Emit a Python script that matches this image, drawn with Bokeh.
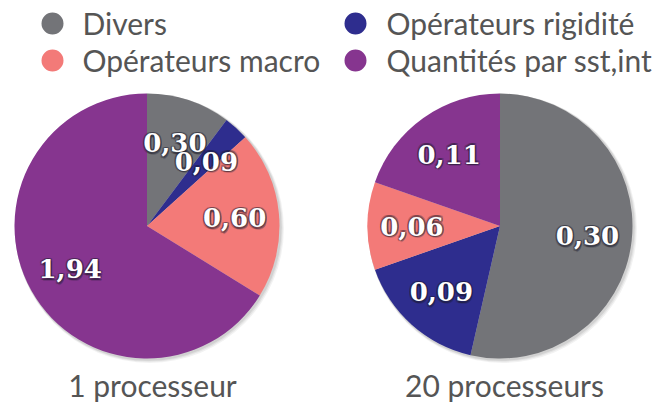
import numpy as np
from bokeh.plotting import figure
from bokeh.models import Range1d, ColumnDataSource
from bokeh.core.properties import value
from bokeh.embed import file_html
from bokeh.resources import INLINE

categories = ["Divers", "Opérateurs rigidité", "Opérateurs macro", "Quantités par sst,int"]
colors = ["#737478", "#2e2d8e", "#f37a78", "#86358f"]
vals_1proc = [0.30, 0.09, 0.60, 1.94]
vals_20proc = [0.30, 0.09, 0.06, 0.11]
captions = ["1 processeur", "20 processeurs"]

W, H = 653, 406
p = figure(width=W, height=H, output_backend="svg", toolbar_location=None,
           x_range=Range1d(0, W), y_range=Range1d(0, H), min_border=0)
p.axis.visible = False
p.grid.visible = False
p.outline_line_color = None
p.background_fill_color = "white"
p.border_fill_color = "white"

def Y(y_img):
    return H - y_img

R = 132.5
centers = [(146.5, Y(225.5)), (499.5, Y(225.5))]
caption_x = [152, 504]
label_r = 88

sans = "Lato"
serif = "DejaVu Serif"

for (cx, cy), vals, cap, capx in zip(centers, [vals_1proc, vals_20proc], captions, caption_x):
    v = np.array(vals, dtype=float)
    frac = v / v.sum()
    ang = 2 * np.pi * frac
    cum = np.concatenate([[0], np.cumsum(ang)])
    # clockwise from 12 o'clock
    start = np.pi / 2 - cum[1:]
    end = np.pi / 2 - cum[:-1]
    mid = (start + end) / 2

    # soft shadow
    for k, a in [(4, 0.05), (3, 0.06), (2, 0.08)]:
        p.scatter(x=[cx + k * 0.6], y=[cy - k * 0.6], size=2 * (R + k * 0.5), marker="circle",
                  fill_color="#000000", fill_alpha=a, line_color=None)

    src = ColumnDataSource(dict(start=start, end=end, color=colors))
    p.wedge(x=cx, y=cy, radius=R, radius_units="screen", start_angle="start", end_angle="end",
            fill_color="color", line_color=None, source=src)

    lx = cx + label_r * np.cos(mid)
    ly = cy + label_r * np.sin(mid)
    labels = [f"{x:.2f}".replace(".", ",") for x in vals]
    lsrc = ColumnDataSource(dict(x=lx, y=ly, t=labels))
    for dx, dy, a in [(-1.5, 0, 0.3), (1.5, 0, 0.3), (0, -1.5, 0.3), (0, 1.5, 0.3),
                      (1.5, 1.5, 0.25), (-1.5, 1.5, 0.25), (1.5, -1.5, 0.25), (-1.5, -1.5, 0.25),
                      (1, 2.5, 0.2)]:
        p.text(x="x", y="y", text="t", source=lsrc, x_offset=dx, y_offset=dy,
               text_font=value(serif), text_font_style="bold", text_font_size="26px",
               text_color="#1a1a2a", text_alpha=a, text_align="center", text_baseline="middle")
    p.text(x="x", y="y", text="t", source=lsrc,
           text_font=value(serif), text_font_style="bold", text_font_size="26px",
           text_color="white", text_align="center", text_baseline="middle")

    p.text(x=[capx], y=[Y(384)], text=[cap], text_font=value(sans), text_font_size="30px",
           text_color="#555555", text_align="center", text_baseline="middle")

# legend
leg_dot_x = [52, 355, 52, 355]
leg_y = [Y(23), Y(23), Y(60), Y(60)]
leg_text_x = [82, 386, 82, 386]
p.scatter(x=leg_dot_x, y=leg_y, size=22, marker="circle", fill_color=colors, line_color=None)
p.text(x=leg_text_x, y=[y + 1 for y in leg_y], text=categories, text_font=value(sans),
       text_font_size="30px", text_color="#555555", text_align="left", text_baseline="middle")

open("out.html", "w").write(file_html(p, INLINE))
